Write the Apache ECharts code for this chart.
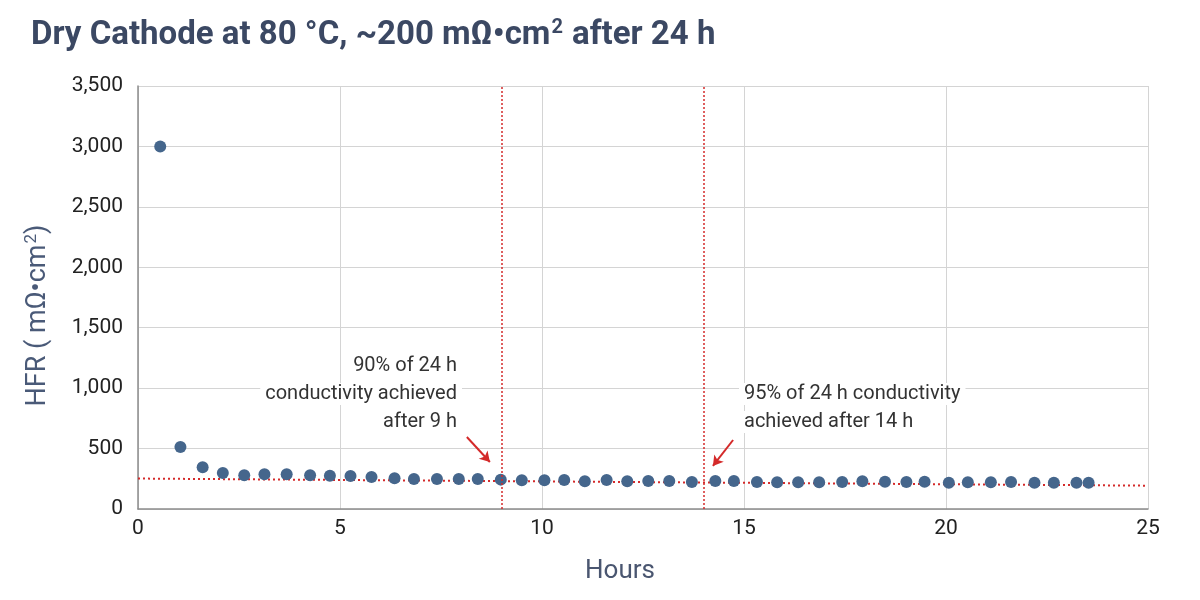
<!DOCTYPE html>
<html>
<head>
<meta charset="utf-8">
<script src="https://cdn.jsdelivr.net/npm/echarts@6/dist/echarts.min.js"></script>
<style>
  html, body { margin: 0; padding: 0; background: #fff; }
  #chart { width: 1200px; height: 600px; }
</style>
</head>
<body>
<div id="chart"></div>
<script>
// 数据
var hours = [0.55, 1.05, 1.6, 2.1, 2.63, 3.13, 3.68, 4.26, 4.75, 5.26, 5.78, 6.35, 6.83, 7.4, 7.94,
  8.41, 8.98, 9.5, 10.06, 10.55, 11.06, 11.6, 12.11, 12.63, 13.15, 13.71, 14.29, 14.75, 15.32, 15.82,
  16.34, 16.86, 17.43, 17.93, 18.49, 19.02, 19.47, 20.07, 20.54, 21.11, 21.61, 22.19, 22.67, 23.23, 23.53];
var hfr = [3000, 513, 345, 298, 279, 287, 287, 279, 276, 273, 265, 254, 248, 248, 248,
  248, 243, 237, 237, 240, 229, 240, 229, 232, 232, 223, 232, 232, 223, 221,
  221, 221, 223, 229, 226, 223, 226, 218, 221, 221, 223, 218, 218, 218, 218];
var trendX = [0, 25];
var trendY = [252, 193];
var milestones = [9, 14];
var arrow1 = [[8.14, 596], [8.71, 389]];
var arrow2 = [[14.73, 571], [14.23, 356]];
var note1 = ['90% of 24 h', 'conductivity achieved', 'after 9 h'];
var note2 = ['95% of 24 h conductivity', 'achieved after 14 h'];

var red = '#d42a2a';
var chart = echarts.init(document.getElementById('chart'));

var pts = hours.map(function (h, i) { return [h, hfr[i]]; });
var trend = trendX.map(function (x, i) { return [x, trendY[i]]; });

function arrowLine(a) {
  return [{ coord: a[0], symbol: 'none' }, { coord: a[1], symbol: 'arrow' }];
}

// 注释文字，每行一个白底块
var graphics = [];
note1.forEach(function (t, i) {
  graphics.push({
    type: 'text', right: 1200 - 462, top: 355 + i * 28, z: 100,
    style: { text: t, font: '20px Roboto', fill: '#333', backgroundColor: '#fff', padding: [1, 5] }
  });
});
note2.forEach(function (t, i) {
  graphics.push({
    type: 'text', left: 739, top: 383 + i * 28, z: 100,
    style: { text: t, font: '20px Roboto', fill: '#333', backgroundColor: '#fff', padding: [1, 5] }
  });
});

chart.setOption({
  backgroundColor: '#fff',
  animation: false,
  title: {
    text: 'Dry Cathode at 80 °C, ~200 mΩ•cm{sup|2} after 24 h',
    left: 26, top: 13,
    textStyle: {
      fontFamily: 'Roboto', fontWeight: 'bold', fontSize: 33, color: '#3b4863',
      rich: { sup: { fontFamily: 'Roboto', fontWeight: 'bold', fontSize: 20, color: '#3b4863', padding: [0, 1, 16, 1] } }
    }
  },
  grid: { left: 138, right: 52, top: 86, bottom: 91 },
  xAxis: {
    type: 'value', min: 0, max: 25, interval: 5,
    name: 'Hours', nameLocation: 'middle', nameGap: 49,
    nameTextStyle: { fontFamily: 'Roboto', fontSize: 26, color: '#4a5670', padding: [0, 46, 0, 0] },
    axisLine: { show: true, lineStyle: { color: '#8c8c8c', width: 1.5 } },
    axisTick: { show: false },
    axisLabel: { fontFamily: 'Roboto', fontSize: 21, color: '#222', margin: 9 },
    splitLine: { lineStyle: { color: '#d4d4d4' } }
  },
  yAxis: {
    type: 'value', min: 0, max: 3500, interval: 500,
    name: 'HFR ( mΩ•cm{sup|2})', nameLocation: 'middle', nameGap: 84,
    nameTextStyle: {
      fontFamily: 'Roboto', fontSize: 27, color: '#4a5a78', padding: [0, 36, 0, 0],
      rich: { sup: { fontFamily: 'Roboto', fontSize: 17, color: '#4a5a78', padding: [0, 0, 14, 1] } }
    },
    axisLine: { show: true, lineStyle: { color: '#8c8c8c', width: 1.5 } },
    axisTick: { show: false },
    axisLabel: {
      fontFamily: 'Roboto', fontSize: 21, color: '#222', margin: 15,
      formatter: function (v) { return v.toLocaleString('en-US'); }
    },
    splitLine: { lineStyle: { color: '#d4d4d4' } }
  },
  series: [{
    type: 'line',
    data: trend,
    symbol: 'none',
    lineStyle: { color: red, width: 2, type: [2, 3] },
    z: 1,
    markLine: {
      silent: true,
      symbol: 'none',
      label: { show: false },
      lineStyle: { color: red, width: 1.5, type: [2, 2] },
      data: milestones.map(function (m) { return { xAxis: m }; })
    }
  }, {
    type: 'scatter',
    data: pts,
    symbolSize: 12,
    itemStyle: { color: '#45668c', opacity: 1 },
    z: 3
  }, {
    type: 'line',
    data: [],
    markLine: {
      silent: true,
      symbolSize: [9, 10],
      label: { show: false },
      lineStyle: { color: red, width: 2, type: 'solid' },
      data: [arrowLine(arrow1), arrowLine(arrow2)]
    }
  }],
  graphic: graphics
});
</script>
</body>
</html>
